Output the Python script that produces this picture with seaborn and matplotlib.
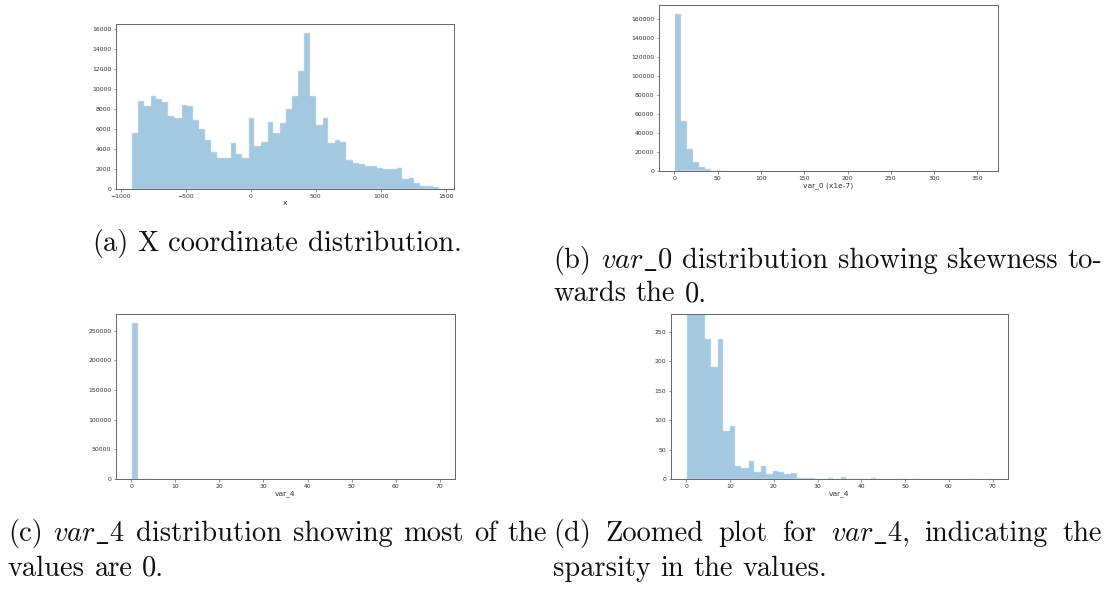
import numpy as np
import pandas as pd
import matplotlib
matplotlib.use("Agg")
import matplotlib.pyplot as plt
import seaborn as sns

# ---- histogram data (50 equal-width bins per panel) ----
x_range = (-920.0, 1446.0)
x_counts = [5700, 8900, 8400, 9450, 9100, 8850, 7450, 7250, 8500, 8400,
            7050, 6150, 5000, 3800, 3250, 3200, 4700, 3600, 3200, 7200,
            4400, 4800, 6800, 5750, 6700, 8100, 9450, 11950, 15700, 9450,
            6500, 7250, 4750, 5050, 4850, 3000, 2700, 2600, 2400, 2450,
            2250, 2100, 2100, 2250, 1100, 1250, 700, 450, 400, 320]

var0_range = (0.0, 356.0)
var0_counts = [166500, 54200, 24600, 10500, 4900, 2700, 1500, 1200, 600, 400,
               150, 90, 60, 40, 25, 18, 12, 9, 6, 5,
               4, 3, 3, 2, 2, 1, 1, 1, 1, 0,
               1, 0, 1, 0, 0, 1, 0, 0, 0, 0,
               0, 0, 0, 0, 0, 0, 0, 0, 0, 1]

var4_range = (0.0, 70.0)
var4_counts = [265000, 420, 1100, 240, 192, 240, 83, 92, 23, 21,
               32, 13, 23, 10, 16, 14, 10, 12, 4, 3,
               4, 1, 1, 3, 1, 5, 1, 1, 1, 0,
               3, 1, 0, 0, 1, 1, 0, 1, 0, 0,
               0, 0, 0, 0, 0, 0, 1, 0, 0, 1]
var4_zoom_ylim = 280

x_labels = ["x", "var_0 (x1e-7)", "var_4", "var_4"]

captions = {
    "a": ["(a) X coordinate distribution."],
    "b": [r"(b) $\mathit{var\_0}$ distribution showing skewness to-",
          "wards the 0."],
    "c": [r"(c) $\mathit{var\_4}$ distribution showing most of the",
          "values are 0."],
    "d": [r"(d) Zoomed plot for $\mathit{var\_4}$, indicating the",
          "sparsity in the values."],
}

BLUE = "#1f77b4"
W, H = 1109, 592

sns.set_theme(style="ticks", rc={
    "axes.edgecolor": "#666666", "axes.linewidth": 0.7,
    "xtick.color": "#666666", "ytick.color": "#666666",
    "xtick.labelcolor": "#333333", "ytick.labelcolor": "#333333",
    "xtick.major.size": 1.8, "ytick.major.size": 1.8,
    "xtick.major.width": 0.5, "ytick.major.width": 0.5,
    "xtick.major.pad": 1.5, "ytick.major.pad": 1.5,
    "xtick.labelsize": 4.4, "ytick.labelsize": 4.4,
    "axes.labelsize": 5.4, "axes.labelpad": 1.2,
    "axes.labelcolor": "#333333",
})
plt.rcParams["font.family"] = ["DejaVu Sans"]
plt.rcParams["mathtext.fontset"] = "cm"

fig = plt.figure(figsize=(W / 100, H / 100), dpi=100)


def px_axes(left, top, right, bottom):
    return fig.add_axes([left / W, 1 - bottom / H, (right - left) / W, (bottom - top) / H])


def hist_panel(ax, rng, counts, xlabel):
    edges = np.linspace(rng[0], rng[1], len(counts) + 1)
    df = pd.DataFrame({"value": 0.5 * (edges[:-1] + edges[1:]),
                       "count": np.asarray(counts, dtype=float)})
    sns.histplot(data=df, x="value", weights="count", bins=list(edges), ax=ax,
                 color=BLUE, alpha=0.4, element="step",
                 edgecolor=(1, 1, 1, 0.75), linewidth=1.0)
    ax.set_xlabel(xlabel)
    ax.set_ylabel("")
    for s in ax.spines.values():
        s.set_visible(True)


ax_a = px_axes(116, 24, 454, 189)
ax_b = px_axes(659, 5, 998, 171)
ax_c = px_axes(116, 314, 455, 479)
ax_d = px_axes(671, 314, 1008, 479)

hist_panel(ax_a, x_range, x_counts, x_labels[0])
hist_panel(ax_b, var0_range, var0_counts, x_labels[1])
hist_panel(ax_c, var4_range, var4_counts, x_labels[2])
hist_panel(ax_d, var4_range, var4_counts, x_labels[3])

ax_a.set_xlim(-1038, 1564)
ax_a.set_ylim(0, 16500)
ax_b.set_xlim(-17.8, 373.8)
ax_b.set_ylim(0, 174800)
ax_c.set_xlim(-3.5, 73.5)
ax_c.set_ylim(0, 278300)
ax_d.set_xlim(-3.5, 73.5)
ax_d.set_ylim(0, var4_zoom_ylim)
ax_b.set_xticks(np.arange(0, 351, 50))
ax_c.set_xticks(np.arange(0, 71, 10))
ax_d.set_xticks(np.arange(0, 71, 10))

# ---- captions in Computer Modern ----
CAP_SIZE = 20.5
renderer = fig.canvas.get_renderer()


def caption_line(text, x0, baseline, x1=None):
    words = text.split(" ")
    arts = [fig.text(0, 0, w, fontsize=CAP_SIZE, family="cmr10",
                     va="baseline", ha="left", color="#111111") for w in words]
    widths = [a.get_window_extent(renderer).width for a in arts]
    if x1 is not None and len(words) > 1:
        gap = (x1 - x0 - sum(widths)) / (len(words) - 1)
    else:
        gap = CAP_SIZE * 100 / 72 * 0.333
    x = x0
    for a, w in zip(arts, widths):
        a.set_position((x / W, 1 - baseline / H))
        x += w + gap


caption_line(captions["a"][0], 92, 251)
caption_line(captions["b"][0], 553, 268, 1102)
caption_line(captions["b"][1], 553, 301)
caption_line(captions["c"][0], 8, 541, 547)
caption_line(captions["c"][1], 8, 576)
caption_line(captions["d"][0], 553, 541, 1102)
caption_line(captions["d"][1], 553, 576)

fig.savefig("out.png", dpi=100)
